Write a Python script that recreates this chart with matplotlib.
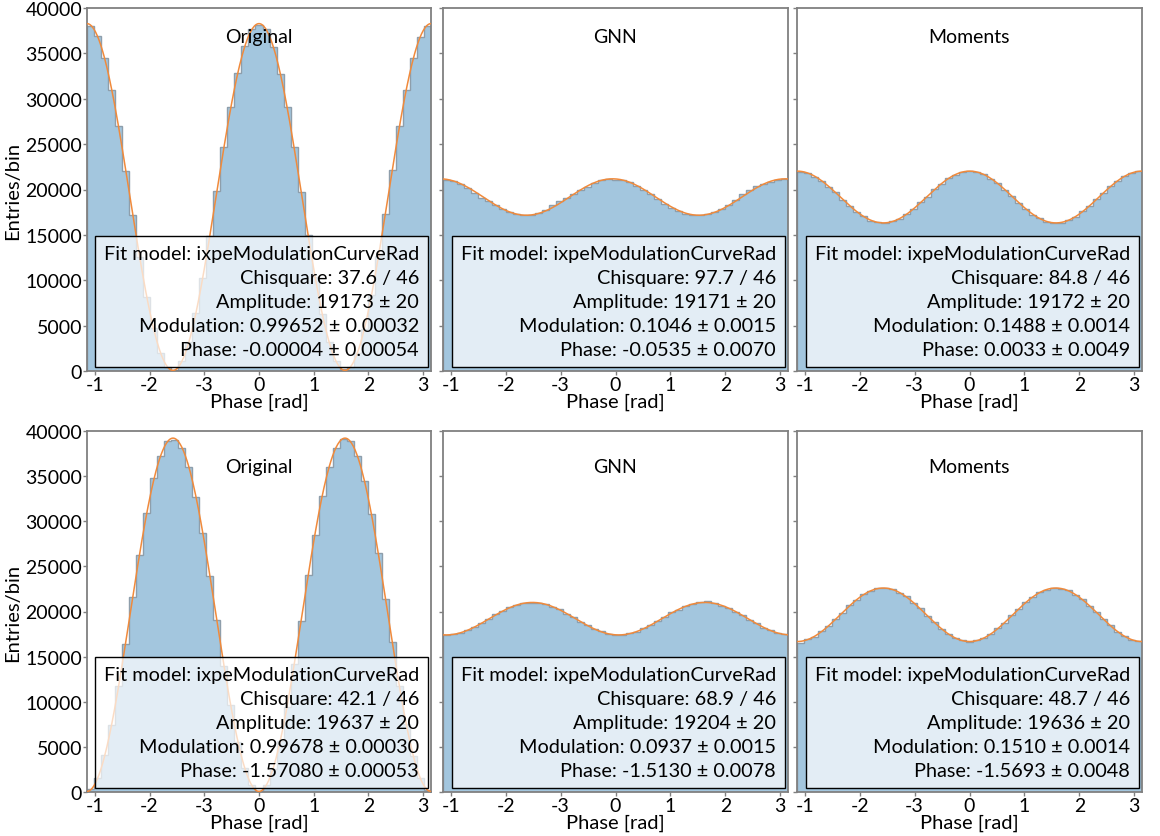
import numpy as np
import matplotlib
matplotlib.use("Agg")
import matplotlib.pyplot as plt

"""
调制曲线直方图 (Original / GNN / Moments) 2x3
"""

plt.rcParams['font.family'] = ['Lato', 'DejaVu Sans']

# 每个子图的直方图计数 (49 bins, -pi .. pi)
orig_top = [38050, 36910, 34520, 31010, 27020, 22030, 17160, 12510, 8190, 4710, 1980, 450, 150,
            1120, 3150, 6420, 10290, 14850, 19850, 24720, 29120, 32790, 35860, 37700, 38120,
            37690, 35710, 32780, 29130, 24680, 19700, 14980, 10410, 6310, 3250, 1060, 170,
            480, 2030, 4620, 8330, 12650, 17280, 22140, 26950, 30980, 34530, 36790, 38020]
gnn_top = [21080, 20990, 20600, 20180, 19560, 19050, 18700, 18250, 17830, 17560, 17330, 17210, 17150,
           17400, 17700, 18300, 18750, 19050, 19480, 19900, 20300, 20760, 21050, 21180, 21090,
           21000, 20850, 20400, 19950, 19480, 18960, 18420, 17980, 17620, 17330, 17240, 17180,
           17290, 17500, 17820, 18250, 18820, 19500, 19980, 20420, 20650, 20860, 21060, 21150]
mom_top = [21950, 21860, 21420, 20990, 20290, 19680, 18850, 18230, 17490, 17040, 16560, 16400, 16290,
           16500, 16740, 17300, 17810, 18580, 19220, 20030, 20610, 21260, 21620, 21970, 21990,
           21900, 21700, 21180, 20690, 19930, 19300, 18490, 17890, 17210, 16820, 16430, 16350,
           16340, 16640, 16960, 17580, 18150, 18940, 19590, 20360, 20910, 21490, 21780, 22040]
orig_bot = [290, 1510, 4050, 7420, 11800, 16450, 21580, 26300, 30900, 34800, 37250, 38900, 39050,
            38100, 36050, 32700, 28700, 23900, 19100, 14000, 9600, 5550, 2660, 730, 110,
            760, 2600, 5650, 9450, 14150, 18900, 24000, 28500, 32800, 36000, 38150, 39100,
            38850, 37200, 34450, 30850, 26450, 21400, 16600, 11700, 7500, 3950, 1560, 260]
gnn_bot = [17380, 17500, 17610, 17960, 18250, 18760, 19130, 19680, 20010, 20470, 20690, 20960, 20970,
           20920, 20850, 20500, 20260, 19750, 19400, 18850, 18500, 18020, 17790, 17480, 17440,
           17400, 17580, 17740, 18140, 18450, 18980, 19350, 19890, 20200, 20630, 20800, 21020,
           21200, 20950, 20650, 20440, 19960, 19620, 19080, 18720, 18210, 17930, 17590, 17480]
mom_bot = [16550, 16930, 17220, 17830, 18390, 19200, 19880, 20700, 21290, 21930, 22270, 22580, 22560,
           22480, 22080, 21670, 20960, 20340, 19500, 18830, 18060, 17540, 17020, 16800, 16650,
           16790, 17030, 17470, 18130, 18760, 19580, 20250, 21050, 21590, 22150, 22420, 22620,
           22520, 22340, 21860, 21370, 20620, 19960, 19120, 18470, 17750, 17290, 16850, 16720]

counts = [orig_top, gnn_top, mom_top, orig_bot, gnn_bot, mom_bot]
titles = ["Original", "GNN", "Moments", "Original", "GNN", "Moments"]

# 拟合结果 (曲线由这些参数画出)
amplitudes = [19173, 19171, 19172, 19637, 19204, 19636]
modulations = [0.99652, 0.1046, 0.1488, 0.99678, 0.0937, 0.1510]
phases = [-0.00004, -0.0535, 0.0033, -1.57080, -1.5130, -1.5693]
chisq = ["37.6", "97.7", "84.8", "42.1", "68.9", "48.7"]
ndof = 46
amp_err = ["20", "20", "20", "20", "20", "20"]
mod_txt = ["0.99652 ± 0.00032", "0.1046 ± 0.0015", "0.1488 ± 0.0014",
           "0.99678 ± 0.00030", "0.0937 ± 0.0015", "0.1510 ± 0.0014"]
phase_txt = ["-0.00004 ± 0.00054", "-0.0535 ± 0.0070", "0.0033 ± 0.0049",
             "-1.57080 ± 0.00053", "-1.5130 ± 0.0078", "-1.5693 ± 0.0048"]

x_ticks = [-3, -2, -1, 0, 1, 2, 3]
x_tick_labels = ["-1", "-2", "-3", "0", "1", "2", "3"]
y_ticks = [0, 5000, 10000, 15000, 20000, 25000, 30000, 35000, 40000]

fill_color = "#a3c6de"
edge_color = "#8e9eab"
fit_color = "#f08a3c"
spine_color = "#808080"

fig = plt.figure(figsize=(11.6, 8.37), dpi=100)

# 子图位置 (像素换算)
W, H = 1160, 837
col_left = [87, 443, 797]
col_width = [344, 345, 345]
row_top = [9, 432]
row_bottom = [372, 793]
title_y = [0.922, 0.902]

for k in range(6):
    r, c = divmod(k, 3)
    ax = fig.add_axes([col_left[c] / W, 1 - row_bottom[r] / H,
                       col_width[c] / W, (row_bottom[r] - row_top[r]) / H])

    vals = np.array(counts[k])
    edges = np.linspace(-np.pi, np.pi, len(vals) + 1)
    ax.stairs(vals, edges, fill=True, color=fill_color, zorder=1)
    ax.stairs(vals, edges, color=edge_color, lw=1.0, zorder=2)

    # 拟合曲线
    xx = np.linspace(-np.pi, np.pi, 400)
    yy = amplitudes[k] * (1 + modulations[k] * np.cos(2 * (xx - phases[k])))
    ax.plot(xx, yy, color=fit_color, lw=1.1, zorder=3)

    ax.set_xlim(-np.pi, np.pi)
    ax.set_ylim(0, 40000)
    ax.set_xticks(x_ticks)
    ax.set_xticklabels(x_tick_labels)
    ax.set_yticks(y_ticks)
    if c == 0:
        ax.set_ylabel("Entries/bin", fontsize=14.5, labelpad=3)
    else:
        ax.set_yticklabels([])
    ax.set_xlabel("Phase [rad]", fontsize=14.5, labelpad=0)
    ax.tick_params(labelsize=14, length=3, width=1, color=spine_color, pad=0.5)
    for s in ax.spines.values():
        s.set_color(spine_color)
        s.set_linewidth(1.3)

    ax.text(0.5, title_y[r], titles[k], transform=ax.transAxes, ha="center", va="center",
            fontsize=14, zorder=6)

    box = ("Fit model: ixpeModulationCurveRad\n"
           "Chisquare: %s / %d\n"
           "Amplitude: %d ± %s\n"
           "Modulation: %s\n"
           "Phase: %s") % (chisq[k], ndof, amplitudes[k], amp_err[k], mod_txt[k], phase_txt[k])
    ax.text(0.965, 0.037, box, transform=ax.transAxes, ha="right", va="bottom",
            multialignment="right", fontsize=14.3, linespacing=1.5, zorder=5,
            bbox=dict(boxstyle="square,pad=0.45", fc=(1, 1, 1, 0.7), ec="black", lw=1))

plt.savefig("out.png", dpi=100)
plt.close()
